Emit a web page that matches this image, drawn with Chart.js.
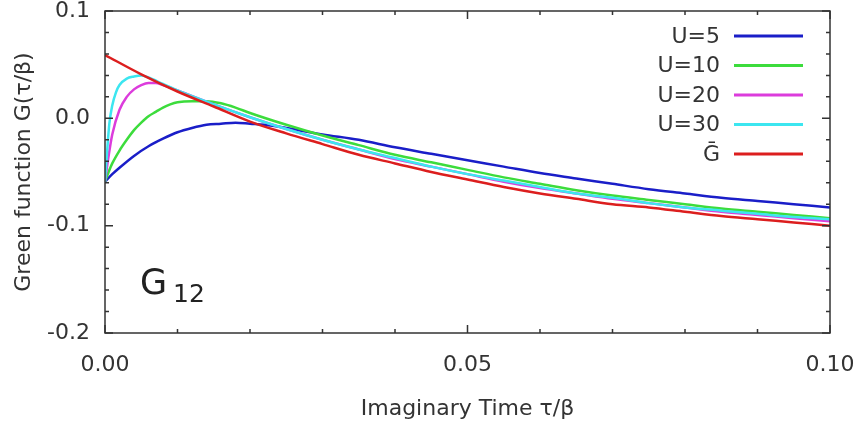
<!DOCTYPE html>
<html>
<head>
<meta charset="utf-8">
<script src="https://cdn.jsdelivr.net/npm/chart.js@4/dist/chart.umd.min.js"></script>
<style>
  html, body { margin: 0; padding: 0; background: #fff; }
  #wrap { width: 859px; height: 428px; }
</style>
</head>
<body>
<div id="wrap"><canvas id="greenChart" width="859" height="428"></canvas></div>
<script>
// imaginary time tau/beta and G12
const tauU5 = [0, 0.001, 0.002, 0.004, 0.006, 0.008, 0.010, 0.012, 0.014, 0.016, 0.018, 0.020, 0.022, 0.025, 0.030, 0.035, 0.040, 0.045, 0.050, 0.055, 0.060, 0.065, 0.070, 0.075, 0.080, 0.085, 0.090, 0.095, 0.100];
const gU5 = [-0.059, -0.052, -0.046, -0.035, -0.026, -0.019, -0.013, -0.009, -0.006, -0.005, -0.004, -0.005, -0.006, -0.009, -0.015, -0.020, -0.027, -0.033, -0.039, -0.045, -0.051, -0.056, -0.061, -0.066, -0.070, -0.074, -0.077, -0.080, -0.083];

const tauU10 = [0, 0.0005, 0.001, 0.002, 0.003, 0.004, 0.005, 0.006, 0.007, 0.008, 0.009, 0.010, 0.012, 0.014, 0.016, 0.018, 0.020, 0.025, 0.030, 0.035, 0.040, 0.045, 0.050, 0.055, 0.060, 0.065, 0.070, 0.075, 0.080, 0.085, 0.090, 0.095, 0.100];
const gU10 = [-0.059, -0.050, -0.042, -0.030, -0.020, -0.011, -0.004, 0.002, 0.006, 0.010, 0.013, 0.015, 0.016, 0.016, 0.014, 0.010, 0.005, -0.006, -0.016, -0.025, -0.034, -0.041, -0.048, -0.055, -0.061, -0.067, -0.072, -0.076, -0.080, -0.084, -0.087, -0.090, -0.093];

const tauU20 = [0, 0.0005, 0.001, 0.002, 0.003, 0.004, 0.005, 0.006, 0.007, 0.008, 0.010, 0.015, 0.020, 0.025, 0.030, 0.035, 0.040, 0.045, 0.050, 0.055, 0.060, 0.065, 0.070, 0.075, 0.080, 0.085, 0.090, 0.095, 0.100];
const gU20 = [-0.059, -0.035, -0.015, 0.008, 0.020, 0.027, 0.031, 0.033, 0.033, 0.031, 0.026, 0.013, 0.001, -0.010, -0.020, -0.029, -0.038, -0.045, -0.052, -0.059, -0.065, -0.070, -0.075, -0.079, -0.083, -0.087, -0.090, -0.093, -0.096];

const tauU30 = [0, 0.0003, 0.0006, 0.001, 0.0015, 0.002, 0.003, 0.004, 0.005, 0.006, 0.008, 0.010, 0.015, 0.020, 0.025, 0.030, 0.035, 0.040, 0.045, 0.050, 0.055, 0.060, 0.065, 0.070, 0.075, 0.080, 0.085, 0.090, 0.095, 0.100];
const gU30 = [-0.059, -0.030, -0.005, 0.012, 0.024, 0.031, 0.037, 0.039, 0.040, 0.038, 0.032, 0.026, 0.013, 0.001, -0.010, -0.020, -0.029, -0.037, -0.045, -0.052, -0.058, -0.064, -0.070, -0.074, -0.079, -0.083, -0.086, -0.089, -0.092, -0.094];

const tauBar = [0, 0.005, 0.010, 0.015, 0.020, 0.025, 0.030, 0.035, 0.040, 0.045, 0.050, 0.055, 0.060, 0.065, 0.070, 0.075, 0.080, 0.085, 0.090, 0.095, 0.100];
const gBar = [0.059, 0.041, 0.025, 0.011, -0.003, -0.014, -0.024, -0.034, -0.042, -0.050, -0.057, -0.064, -0.070, -0.075, -0.080, -0.083, -0.087, -0.091, -0.094, -0.097, -0.100];

const seriesLabels = ['U=5', 'U=10', 'U=20', 'U=30', '\u1E20'];
const seriesColors = ['#1a1ec8', '#3cdc3c', '#dc3cdc', '#3ce6f0', '#dc1e1e'];

const xTickLabels = ['0.00', '0.05', '0.10'];
const yTickLabels = ['-0.2', '-0.1', '0.0', '0.1'];

const FONT = "'DejaVu Sans', sans-serif";
const TEXT = '#333';

function pairs(xs, ys) {
    return xs.map((x, i) => ({ x: x, y: ys[i] }));
}

const allTau = [tauU5, tauU10, tauU20, tauU30, tauBar];
const allG = [gU5, gU10, gU20, gU30, gBar];

const datasets = seriesLabels.map((label, i) => ({
    label: label,
    data: pairs(allTau[i], allG[i]),
    borderColor: seriesColors[i],
    backgroundColor: seriesColors[i],
    borderWidth: 2.5,
    pointRadius: 0,
    showLine: true,
    cubicInterpolationMode: 'monotone',
    order: seriesLabels.length - i
}));

// frame, inward ticks (major + minor), legend and the panel label
const framePlugin = {
    id: 'frame',
    afterDatasetsDraw(chart) {
        const ctx = chart.ctx;
        const a = chart.chartArea;
        const xs = chart.scales.x;
        const ys = chart.scales.y;
        ctx.save();
        ctx.strokeStyle = '#333';
        ctx.lineWidth = 1.5;
        ctx.strokeRect(a.left, a.top, a.right - a.left, a.bottom - a.top);

        ctx.beginPath();
        for (let i = 0; i <= 10; i++) {
            const px = xs.getPixelForValue(i * 0.01);
            const len = i % 5 === 0 ? 8 : 4;
            ctx.moveTo(px, a.bottom); ctx.lineTo(px, a.bottom - len);
            ctx.moveTo(px, a.top); ctx.lineTo(px, a.top + len);
        }
        for (let i = 0; i <= 15; i++) {
            const py = ys.getPixelForValue(-0.2 + i * 0.02);
            const len = i % 5 === 0 ? 8 : 4;
            ctx.moveTo(a.left, py); ctx.lineTo(a.left + len, py);
            ctx.moveTo(a.right, py); ctx.lineTo(a.right - len, py);
        }
        ctx.stroke();

        // legend: label on the left, sample line on the right
        ctx.font = '22px ' + FONT;
        ctx.textAlign = 'right';
        ctx.textBaseline = 'middle';
        chart.data.datasets.forEach((ds, i) => {
            const y = a.top + 25 + i * 29.5;
            ctx.fillStyle = TEXT;
            ctx.fillText(ds.label, a.right - 110, y + 1);
            ctx.strokeStyle = ds.borderColor;
            ctx.lineWidth = 3;
            ctx.beginPath();
            ctx.moveTo(a.right - 96, y);
            ctx.lineTo(a.right - 27, y);
            ctx.stroke();
        });

        ctx.fillStyle = '#222';
        ctx.textAlign = 'left';
        ctx.textBaseline = 'alphabetic';
        ctx.font = '35px ' + FONT;
        ctx.fillText('G', a.left + 35, a.top + 283);
        ctx.font = '25px ' + FONT;
        ctx.fillText('12', a.left + 68, a.top + 291);
        ctx.restore();
    }
};

new Chart(document.getElementById('greenChart').getContext('2d'), {
    type: 'scatter',
    data: { datasets: datasets },
    options: {
        responsive: false,
        animation: false,
        layout: { padding: { top: 11, right: 29, left: 0, bottom: 0 } },
        scales: {
            x: {
                type: 'linear',
                min: 0,
                max: 0.1,
                afterFit(scale) { scale.height = 95; },
                afterBuildTicks(scale) {
                    scale.ticks = xTickLabels.map(t => ({ value: parseFloat(t) }));
                },
                grid: { drawOnChartArea: false, tickLength: 21, tickColor: 'rgba(0,0,0,0)' },
                border: { display: false },
                ticks: {
                    padding: 0,
                    color: TEXT,
                    font: { family: FONT, size: 22, lineHeight: 1 },
                    callback: (v, i) => xTickLabels[i]
                },
                title: {
                    display: true,
                    text: 'Imaginary Time \u03C4/\u03B2',
                    color: TEXT,
                    font: { family: FONT, size: 22 },
                    padding: { top: 0, bottom: 6 }
                }
            },
            y: {
                type: 'linear',
                min: -0.2,
                max: 0.1,
                afterFit(scale) { scale.width = 105; },
                afterBuildTicks(scale) {
                    scale.ticks = yTickLabels.map(t => ({ value: parseFloat(t) }));
                },
                grid: { drawOnChartArea: false, tickLength: 15, tickColor: 'rgba(0,0,0,0)' },
                border: { display: false },
                ticks: {
                    padding: 0,
                    color: TEXT,
                    font: { family: FONT, size: 22, lineHeight: 1 },
                    callback: (v, i) => yTickLabels[i]
                },
                title: {
                    display: true,
                    text: 'Green function G(\u03C4/\u03B2)',
                    color: TEXT,
                    font: { family: FONT, size: 22 },
                    padding: { top: 11, bottom: 0 }
                }
            }
        },
        plugins: {
            legend: { display: false },
            tooltip: { enabled: false }
        }
    },
    plugins: [framePlugin]
});
</script>
</body>
</html>
